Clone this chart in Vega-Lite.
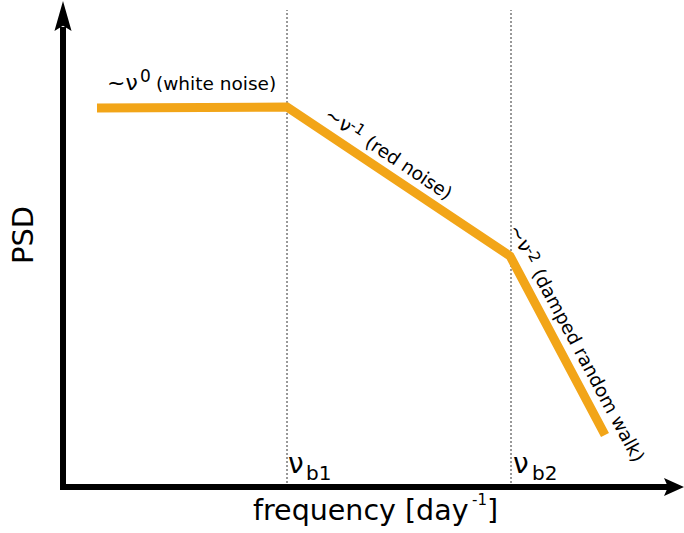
{
  "$schema": "https://vega.github.io/schema/vega-lite/v6.json",
  "width": 684,
  "height": 533,
  "padding": 0,
  "autosize": {"type": "fit", "contains": "padding"},
  "background": "white",
  "config": {"view": {"stroke": null}, "text": {"font": "DejaVu Sans", "color": "black"}},
  "datasets": {
    "psd": [
      {"f": 0.34, "p": 3.79, "o": 1},
      {"f": 2.24, "p": 3.80, "o": 2},
      {"f": 4.47, "p": 2.31, "o": 3},
      {"f": 5.42, "p": 0.52, "o": 4}
    ],
    "breaks": [
      {"f": 2.24, "p": 0, "p2": 4.77},
      {"f": 4.48, "p": 0, "p2": 4.77}
    ],
    "axes": [
      {"f": -0.03, "f2": 6.09, "p": 0, "p2": 0},
      {"f": 0, "f2": 0, "p": -0.03, "p2": 4.6}
    ],
    "xarrow": [{"f": 6.11, "p": 0}],
    "yarrow": [{"f": 0, "p": 4.71}],
    "white": [
      {"f": 0.44, "p": 3.97, "a": "~ν", "b": "0", "c": "(white noise)"}
    ],
    "red": [{"f": 2.60, "p": 3.69, "a": "~ν", "b": "-1", "c": "(red noise)"}],
    "drw": [{"f": 4.45, "p": 2.58, "a": "~ν", "b": "-2", "c": "(damped random walk)"}],
    "nu": [
      {"f": 2.25, "p": 0.14, "t": "ν"},
      {"f": 4.50, "p": 0.14, "t": "ν"}
    ],
    "sub": [
      {"f": 2.43, "p": 0.07, "t": "b1"},
      {"f": 4.69, "p": 0.07, "t": "b2"}
    ],
    "xlabel": [{"f": 1.90, "p": -0.33, "a": "frequency [day", "b": "-1", "c": "]"}],
    "ylabel": [{"f": -0.39, "p": 2.52, "t": "PSD"}]
  },
  "encoding": {
    "x": {"field": "f", "type": "quantitative", "scale": {"domain": [-0.63, 6.21], "nice": false, "zero": false}, "axis": null},
    "y": {"field": "p", "type": "quantitative", "scale": {"domain": [-0.46, 4.87], "nice": false, "zero": false}, "axis": null}
  },
  "layer": [
    {
      "data": {"name": "breaks"},
      "mark": {"type": "rule", "color": "#333333", "strokeWidth": 1, "strokeDash": [2, 2]},
      "encoding": {"y2": {"field": "p2"}}
    },
    {
      "data": {"name": "axes"},
      "mark": {"type": "rule", "color": "black", "strokeWidth": 6},
      "encoding": {"x2": {"field": "f2"}, "y2": {"field": "p2"}}
    },
    {
      "data": {"name": "xarrow"},
      "mark": {"type": "point", "filled": true, "color": "black", "opacity": 1, "size": 400, "shape": "M1,0 L-1,-0.9 L-0.6,0 L-1,0.9 Z"}
    },
    {
      "data": {"name": "yarrow"},
      "mark": {"type": "point", "filled": true, "color": "black", "opacity": 1, "size": 900, "shape": "M0,-1 L0.57,1 L0,0.65 L-0.57,1 Z"}
    },
    {
      "data": {"name": "psd"},
      "mark": {"type": "line", "color": "#f2a518", "strokeWidth": 9, "strokeCap": "butt", "strokeJoin": "miter"},
      "encoding": {"order": {"field": "o", "type": "quantitative"}}
    },
    {
      "data": {"name": "white"},
      "mark": {"type": "text", "fontSize": 22, "align": "left", "baseline": "alphabetic"},
      "encoding": {"text": {"field": "a"}}
    },
    {
      "data": {"name": "white"},
      "mark": {"type": "text", "fontSize": 17, "align": "left", "baseline": "alphabetic", "dx": 33, "dy": -8},
      "encoding": {"text": {"field": "b"}}
    },
    {
      "data": {"name": "white"},
      "mark": {"type": "text", "fontSize": 18.5, "align": "left", "baseline": "alphabetic", "dx": 49},
      "encoding": {"text": {"field": "c"}}
    },
    {
      "data": {"name": "red"},
      "mark": {"type": "text", "fontSize": 20, "align": "left", "baseline": "alphabetic", "angle": 33.7},
      "encoding": {"text": {"field": "a"}}
    },
    {
      "data": {"name": "red"},
      "mark": {"type": "text", "fontSize": 15, "align": "left", "baseline": "alphabetic", "angle": 33.7, "dx": 27, "dy": -6},
      "encoding": {"text": {"field": "b"}}
    },
    {
      "data": {"name": "red"},
      "mark": {"type": "text", "fontSize": 18.5, "align": "left", "baseline": "alphabetic", "angle": 33.7, "dx": 49},
      "encoding": {"text": {"field": "c"}}
    },
    {
      "data": {"name": "drw"},
      "mark": {"type": "text", "fontSize": 20, "align": "left", "baseline": "alphabetic", "angle": 61.8},
      "encoding": {"text": {"field": "a"}}
    },
    {
      "data": {"name": "drw"},
      "mark": {"type": "text", "fontSize": 15, "align": "left", "baseline": "alphabetic", "angle": 61.8, "dx": 27, "dy": -5},
      "encoding": {"text": {"field": "b"}}
    },
    {
      "data": {"name": "drw"},
      "mark": {"type": "text", "fontSize": 18.5, "align": "left", "baseline": "alphabetic", "angle": 61.8, "dx": 50},
      "encoding": {"text": {"field": "c"}}
    },
    {
      "data": {"name": "nu"},
      "mark": {"type": "text", "fontSize": 28, "align": "left", "baseline": "alphabetic"},
      "encoding": {"text": {"field": "t"}}
    },
    {
      "data": {"name": "sub"},
      "mark": {"type": "text", "fontSize": 20, "align": "left", "baseline": "alphabetic"},
      "encoding": {"text": {"field": "t"}}
    },
    {
      "data": {"name": "xlabel"},
      "mark": {"type": "text", "fontSize": 28.5, "align": "left", "baseline": "alphabetic"},
      "encoding": {"text": {"field": "a"}}
    },
    {
      "data": {"name": "xlabel"},
      "mark": {"type": "text", "fontSize": 15, "align": "left", "baseline": "alphabetic", "dx": 219, "dy": -15},
      "encoding": {"text": {"field": "b"}}
    },
    {
      "data": {"name": "xlabel"},
      "mark": {"type": "text", "fontSize": 28.5, "align": "left", "baseline": "alphabetic", "dx": 234},
      "encoding": {"text": {"field": "c"}}
    },
    {
      "data": {"name": "ylabel"},
      "mark": {"type": "text", "fontSize": 29, "align": "center", "baseline": "middle", "angle": -90},
      "encoding": {"text": {"field": "t"}}
    }
  ]
}
